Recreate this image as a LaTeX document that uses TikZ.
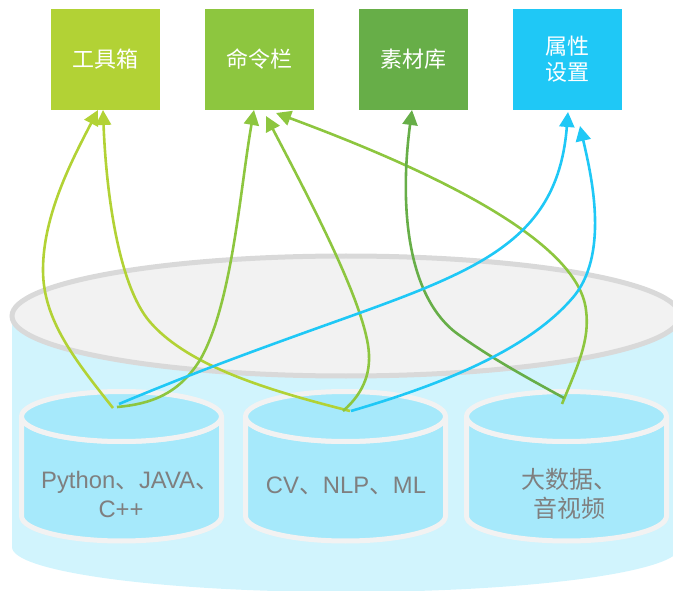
\documentclass[tikz,border=0pt]{standalone}
\usepackage{fontspec}
\setmainfont{Liberation Sans}
\newfontfamily\cjk{Noto Sans CJK SC}
\usetikzlibrary{arrows.meta}
\definecolor{cLime}{HTML}{B2D235}
\definecolor{cGreen}{HTML}{8DC63F}
\definecolor{cDark}{HTML}{67AE48}
\definecolor{cBlue}{HTML}{1FC8F6}
\definecolor{cOuter}{HTML}{D1F4FD}
\definecolor{cInner}{HTML}{A6E9FB}
\definecolor{cRim}{HTML}{F2F2F2}
\definecolor{cGrayLine}{HTML}{D9D9D9}
\definecolor{cText}{HTML}{7F7F7F}
\tikzset{
  toolbox/.style={minimum width=109pt,minimum height=101pt,inner sep=0pt,text=white,
    font=\fontsize{22}{26}\selectfont\cjk,align=center},
  cylrim/.style={draw=cRim,fill=cInner,line width=5pt},
  cyltext/.style={text=cText,inner sep=0pt,align=center,font=\fontsize{23.8}{29}\selectfont},
  conn/.style={line width=2.6pt,-{Triangle[length=15pt,width=15pt]}},
}
\newcommand{\cylinder}[1]{%
  \path[cylrim] (#1-100,416.5) -- (#1-100,516) arc[start angle=180,end angle=360,x radius=100,y radius=-25]
     -- (#1+100,416.5) arc[start angle=0,end angle=180,x radius=100,y radius=25] -- cycle;
  \path[cylrim] (#1,416.5) ellipse[x radius=100,y radius=25];
}
\begin{document}
\begin{tikzpicture}[x=1pt,y=-1pt]
\useasboundingbox (0,0) rectangle (673,591);
\clip (0,0) rectangle (673,591);
% outer cylinder
\fill[cOuter] (12,316) -- (12,547) arc[start angle=180,end angle=360,x radius=334,y radius=-45]
  -- (680,316) -- cycle;
\path[draw=cGrayLine,fill=cRim,line width=5pt] (346,316) ellipse[x radius=334,y radius=60];
% inner cylinders
\cylinder{121.5}
\cylinder{345.5}
\cylinder{566.5}
% labels
\node[cyltext] (lab1) at (121,494) {\hspace*{18pt}Python{\cjk 、}JAVA{\cjk 、}\\C++};
\node[cyltext] (lab2) at (346,486) {CV{\cjk 、}NLP{\cjk 、}ML};
\node[cyltext] (lab3) at (569,494) {\cjk\fontsize{24}{29}\selectfont 大数据、\\\cjk\fontsize{24}{29}\selectfont 音视频};
% top boxes
\node[toolbox,fill=cLime]  (tool) at (105.5,59.5) {工具箱};
\node[toolbox,fill=cGreen] (cmd)  at (259.5,59.5) {命令栏};
\node[toolbox,fill=cDark]  (mat)  at (413.5,59.5) {素材库};
\node[toolbox,fill=cBlue]  (prop) at (567.5,59.5) {属性\\设置};
% connector ends
\coordinate (s1) at (113,408);
\coordinate (s2) at (117,407);
\coordinate (s3) at (119,404);
\coordinate (s4) at (350,411);
\coordinate (s5) at (343,411);
\coordinate (s6) at (351,411);
\coordinate (s7) at (562,404);
\coordinate (s8) at (564,398);
\coordinate (t1) at (98,110);
\coordinate (t2) at (103,110);
\coordinate (t3) at (254,110);
\coordinate (t4) at (266,116);
\coordinate (t5) at (276,113);
\coordinate (t6) at (412,110);
\coordinate (t7) at (568,112);
\coordinate (t8) at (580,126);
% connectors
\draw[conn,cLime] (s1) .. controls (75,360) and (43,320) .. (43,270) .. controls (43,215) and (72,160) .. (t1);
\draw[conn,cLime] (s4) .. controls (275,392) and (190,368) .. (150,322) .. controls (118,285) and (106,190) .. (t2);
\draw[conn,cGreen] (s2) .. controls (150,404) and (178,395) .. (200,360) .. controls (232,305) and (240,190) .. (t3);
\draw[conn,cGreen] (s5) .. controls (365,392) and (372,370) .. (368,345) .. controls (360,295) and (310,200) .. (t4);
\draw[conn,cGreen] (s7) .. controls (578,365) and (590,340) .. (586,310) .. controls (578,240) and (430,170) .. (t5);
\draw[conn,cDark] (s8) .. controls (535,382) and (490,358) .. (455,332) .. controls (405,292) and (400,200) .. (t6);
\draw[conn,cBlue] (s3) .. controls (200,370) and (270,345) .. (340,320) .. controls (480,270) and (558,240) .. (t7);
\draw[conn,cBlue] (s6) .. controls (440,385) and (530,350) .. (575,295) .. controls (610,250) and (590,170) .. (t8);
\end{tikzpicture}
\end{document}
